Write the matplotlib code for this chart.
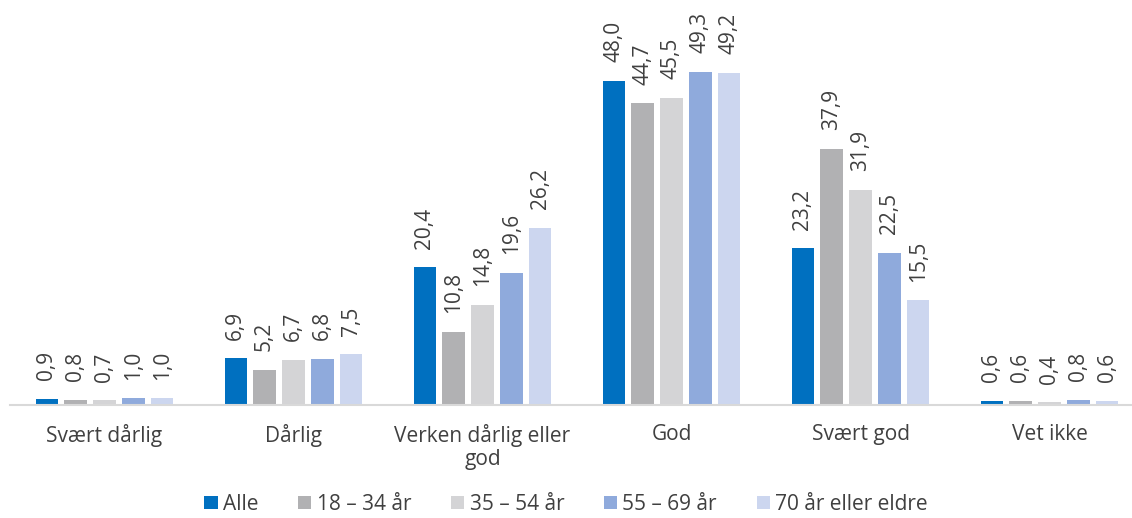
import numpy as np
import matplotlib.pyplot as plt

plt.rcParams['font.family'] = ['Open Sans', 'DejaVu Sans']

categories = ['Svært dårlig', 'Dårlig', 'Verken dårlig eller\ngod', 'God', 'Svært god', 'Vet ikke']
series = ['Alle', '18 – 34 år', '35 – 54 år', '55 – 69 år', '70 år eller eldre']
alle = [0.9, 6.9, 20.4, 48.0, 23.2, 0.6]
age_18_34 = [0.8, 5.2, 10.8, 44.7, 37.9, 0.6]
age_35_54 = [0.7, 6.7, 14.8, 45.5, 31.9, 0.4]
age_55_69 = [1.0, 6.8, 19.6, 49.3, 22.5, 0.8]
age_70 = [1.0, 7.5, 26.2, 49.2, 15.5, 0.6]

values = [alle, age_18_34, age_35_54, age_55_69, age_70]
colors = ['#0070C0', '#B1B1B3', '#D4D4D6', '#8FAADC', '#CCD6EF']
text_color = '#404040'

fig = plt.figure(figsize=(11.32, 5.18), dpi=100)
ax = fig.add_axes([10 / 1132, 113 / 518, 1122 / 1132, 405 / 518])

x = np.arange(len(categories))
step = 0.153
width = 0.118
for k, (name, vals, col) in enumerate(zip(series, values, colors)):
    pos = x + (k - 2) * step
    ax.bar(pos, vals, width=width, color=col, label=name, zorder=2)
    for px, v in zip(pos, vals):
        ax.annotate(f'{v:.1f}'.replace('.', ','), (px, v), xytext=(0, 13.5),
                    textcoords='offset points', rotation=90, ha='center',
                    va='bottom', fontsize=15, color=text_color)

ax.set_xlim(-0.5, -0.5 + 1122 / 189)
ax.set_ylim(0, 60)
ax.set_yticks([])
ax.set_xticks(x)
ax.set_xticklabels(categories, fontsize=15, color=text_color, linespacing=1.1)
ax.tick_params(axis='x', length=0, pad=14)
for s in ['top', 'right', 'left']:
    ax.spines[s].set_visible(False)
ax.spines['bottom'].set_color('#D9D9D9')
ax.spines['bottom'].set_linewidth(1.5)

fig.legend(loc='lower center', bbox_to_anchor=(0.5, -0.03), ncol=5, frameon=False,
           fontsize=15, labelcolor=text_color, handlelength=0.65, handleheight=0.65,
           handletextpad=0.25, columnspacing=1.9)

fig.savefig('out.png', dpi=100)
